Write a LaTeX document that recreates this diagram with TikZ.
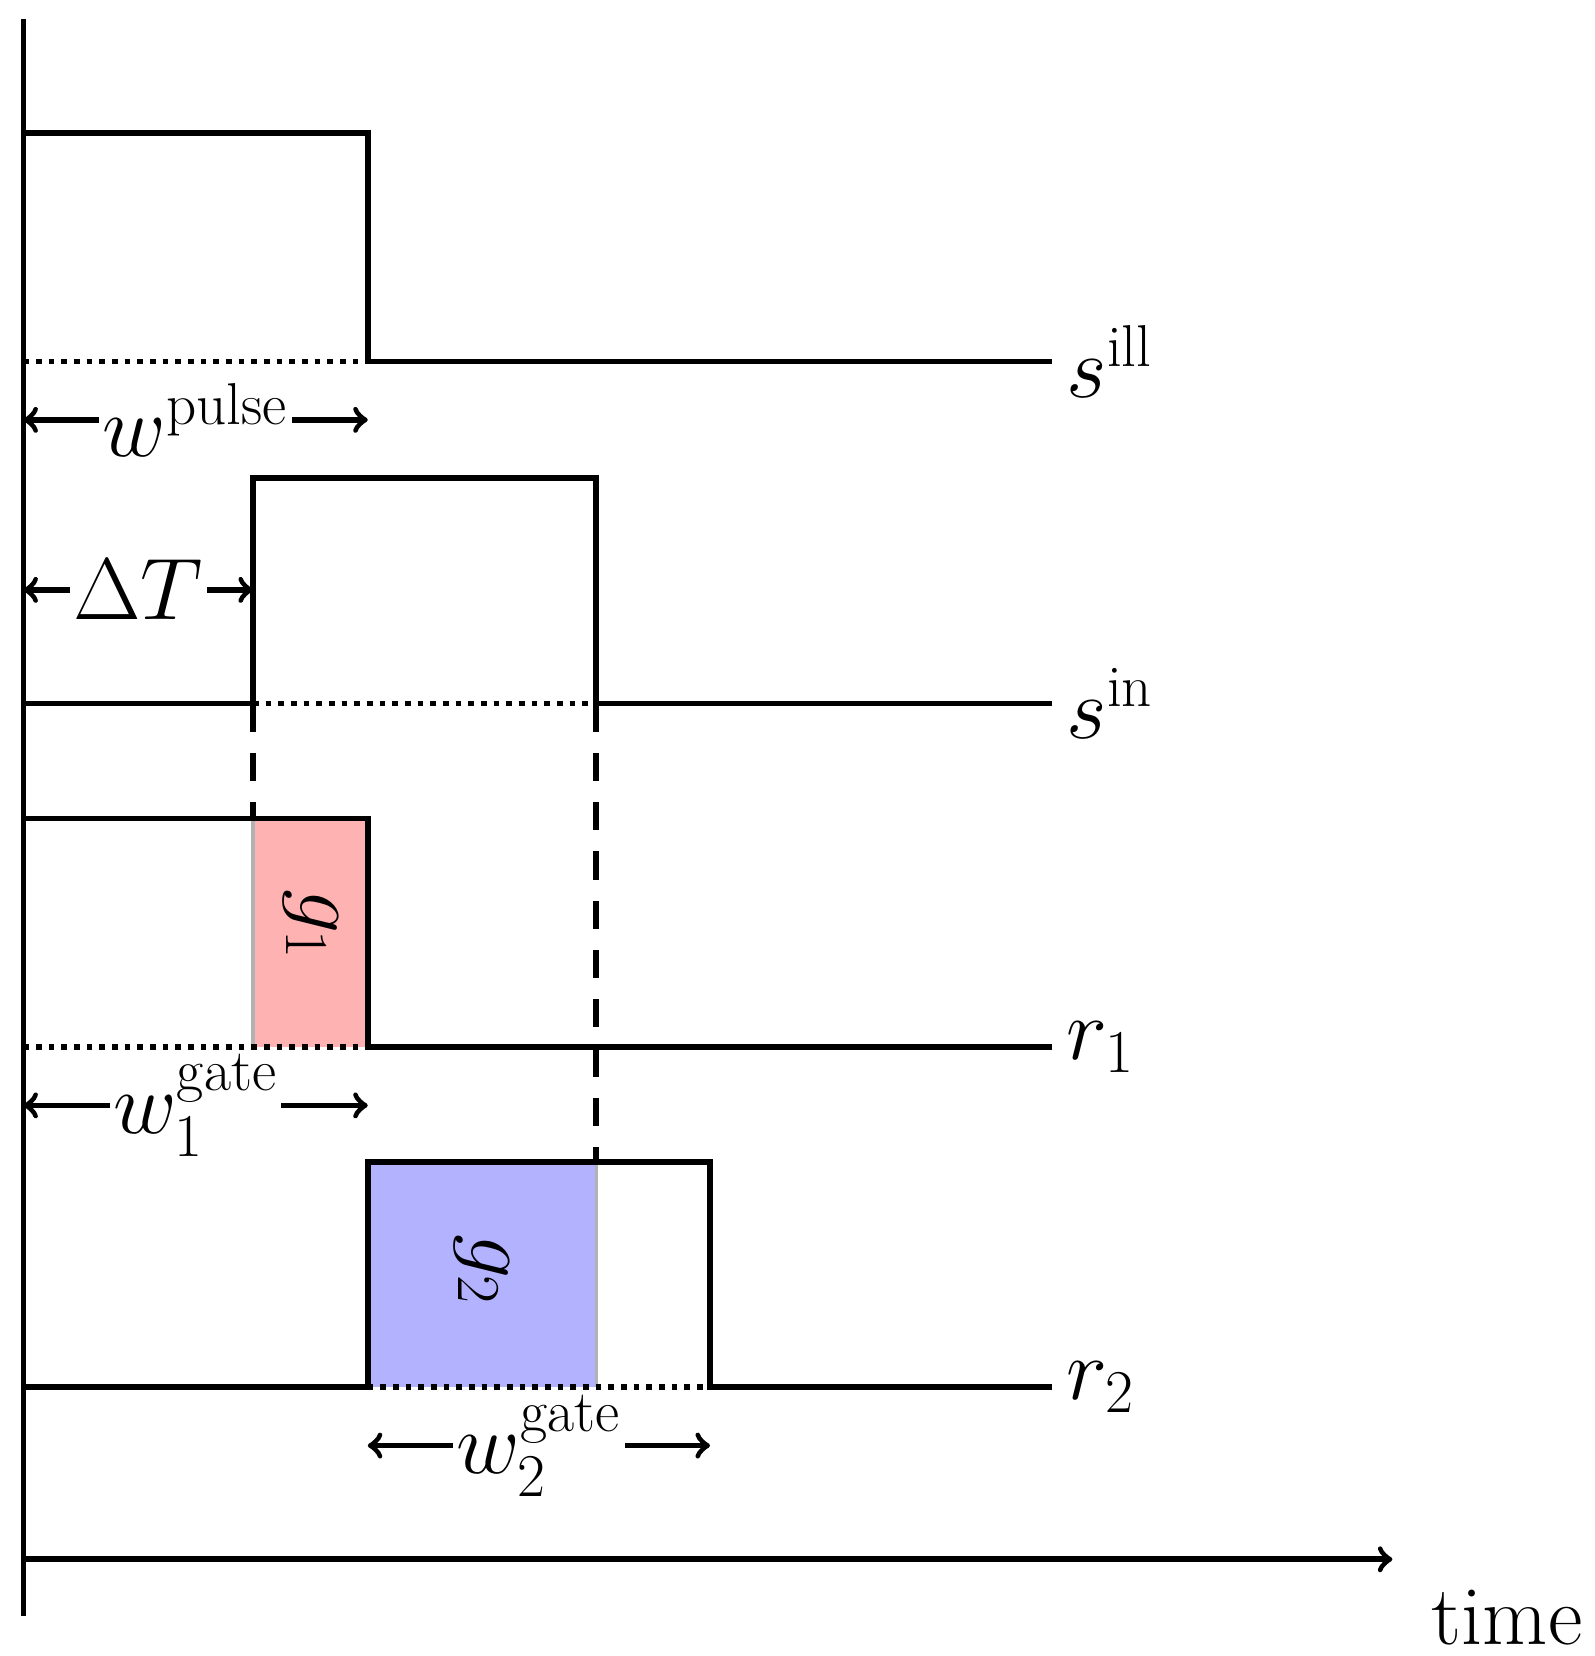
\documentclass[tikz,border=0pt]{standalone}
\usepackage{amsmath}
\usepackage{tikz}
\usetikzlibrary{positioning, calc, arrows}

\begin{document}
\begin{tikzpicture}[x=0.010627cm, y=-0.010627cm, line width=1.6pt,
  font=\fontsize{24}{28}\selectfont,
  sig/.style = {line width=1.6pt},
  base/.style = {dotted, line width=1.6pt},
  guide/.style = {line width=1.6pt, dash pattern=on 8pt off 6pt},
  span/.style = {<->, >=to, line width=1.6pt},
  lbl/.style = {fill=white, inner sep=1pt}]
\useasboundingbox (0,0) rectangle (1500,1558);
% shaded gate windows
\fill[red!30] (238,770) rectangle (346,985);
\fill[blue!30] (346,1093) rectangle (561,1305);
\draw[gray!60, line width=1pt] (238,770) -- (238,985);
\draw[gray!60, line width=1pt] (561,1093) -- (561,1305);
\node[rotate=-90] (g1) at (292,870) {$g_1$};
\node[rotate=-90] (g2) at (453,1195) {$g_2$};
% axes
\coordinate (o) at (22,1467);
\draw[sig] (22,18) -- (22,1520);
\draw[sig, ->, >=to] (o) -- (1310,1467);
\node (t) at (1418,1522) {time};
% signals
\draw[sig] (22,125) -- (346,125) -- (346,340) -- (990,340) node (sill) [right] {$s^{\text{ill}}$};
\draw[sig] (22,662) -- (238,662) -- (238,450) -- (561,450) -- (561,662) -- (990,662) node (sin) [right] {$s^{\text{in}}$};
\draw[sig] (22,770) -- (346,770) -- (346,985) -- (990,985) node (r1) [right] {$r_1$};
\draw[sig] (22,1305) -- (346,1305) -- (346,1093) -- (668,1093) -- (668,1305) -- (990,1305) node (r2) [right] {$r_2$};
% baselines
\draw[base] (22,340) -- (346,340);
\draw[base] (238,662) -- (561,662);
\draw[base] (22,985) -- (346,985);
\draw[base] (346,1305) -- (668,1305);
\draw[guide] (238,662) -- (238,770);
\draw[guide] (561,662) -- (561,1093);
% widths
\draw[span] (22,395) -- node[lbl] {$w^{\text{pulse}}$} (346,395);
\draw[span] (22,555) -- node[lbl] {$\Delta T$} (238,555);
\draw[span] (22,1040) -- node[lbl] {$w_1^{\text{gate}}$} (346,1040);
\draw[span] (346,1360) -- node[lbl] {$w_2^{\text{gate}}$} (668,1360);
\end{tikzpicture}
\end{document}
